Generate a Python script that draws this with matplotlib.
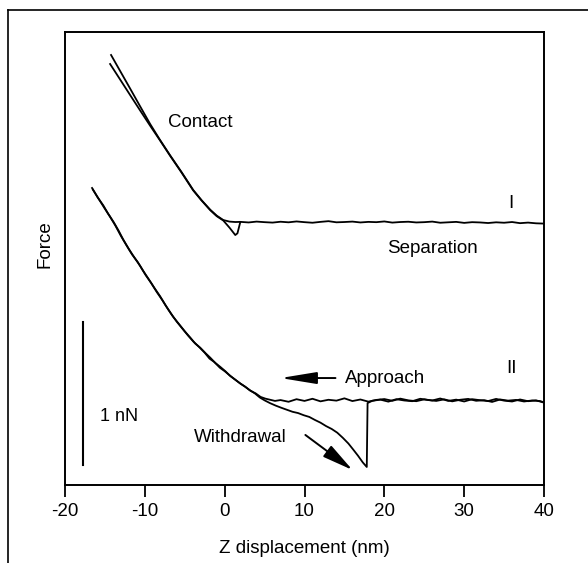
import matplotlib
matplotlib.use("Agg")
import matplotlib.pyplot as plt
from matplotlib.lines import Line2D

plt.rcParams['font.family'] = ['Liberation Sans', 'DejaVu Sans']

# curve I (top): approach and withdrawal, force in nN, Z in nm
i_app_x = [-14.23, -13.0, -11.84, -10.6, -9.33, -8.1, -6.83, -5.4, -3.94, -2.9,
           -1.81, -1.0, -0.18, 0.6, 1.33, 1.96]
i_app_y = [3.007, 2.886, 2.772, 2.649, 2.524, 2.413, 2.305, 2.188, 2.063, 1.992,
           1.925, 1.884, 1.853, 1.842, 1.839, 1.840]
i_wd_x = [-14.35, -13.1, -11.9, -10.6, -9.33, -8.1, -6.83, -5.4, -3.94, -2.9,
          -1.81, -1.0, -0.18, 0.6, 1.33, 1.6, 1.96]
i_wd_y = [2.944, 2.836, 2.732, 2.620, 2.512, 2.410, 2.302, 2.185, 2.060, 1.990,
          1.922, 1.880, 1.850, 1.800, 1.748, 1.760, 1.839]
i_flat_x = [2, 3, 4, 5, 6, 7, 8, 9, 10, 11, 12, 13, 14, 15, 16, 17, 18, 19, 20,
            21, 22, 23, 24, 25, 26, 27, 28, 29, 30, 31, 32, 33, 34, 35, 36, 37,
            38, 39, 40]
i_flat_y = [1.840, 1.836, 1.842, 1.838, 1.835, 1.841, 1.837, 1.843, 1.838, 1.834,
            1.840, 1.845, 1.837, 1.839, 1.842, 1.836, 1.840, 1.838, 1.843, 1.835,
            1.839, 1.841, 1.836, 1.838, 1.842, 1.834, 1.837, 1.840, 1.833, 1.838,
            1.836, 1.832, 1.837, 1.834, 1.839, 1.831, 1.835, 1.830, 1.828]

# curve II (bottom)
ii_app_x = [-16.61, -15.9, -15.2, -14.6, -13.9, -13.3, -12.7, -12.0, -11.3, -10.6,
            -9.9, -9.2, -8.5, -7.8, -7.1, -6.45, -5.7, -5.0, -4.3, -3.7, -3.06,
            -2.4, -1.8, -1.2, -0.55, 0.1, 0.7, 1.33, 2.0, 2.6, 3.2, 3.9, 4.5, 5.1,
            5.7, 6.3,
            7, 8, 9, 10, 11, 12, 13, 14, 15, 16, 17, 18, 19, 20, 21, 22, 23, 24,
            25, 26, 27, 28, 29, 30, 31, 32, 33, 34, 35, 36, 37, 38, 39, 40]
ii_app_y = [2.077, 2.010, 1.955, 1.897, 1.838, 1.780, 1.716, 1.650, 1.590, 1.533,
            1.468, 1.412, 1.349, 1.292, 1.230, 1.176, 1.124, 1.075, 1.030, 0.990,
            0.960, 0.922, 0.890, 0.855, 0.826, 0.795, 0.762, 0.736, 0.708, 0.686,
            0.660, 0.640, 0.616, 0.604, 0.596, 0.588,
            0.594, 0.582, 0.600, 0.588, 0.603, 0.585, 0.596, 0.590, 0.606, 0.587,
            0.598, 0.583, 0.595, 0.601, 0.589, 0.604, 0.592, 0.586, 0.599, 0.591,
            0.605, 0.588, 0.597, 0.584, 0.600, 0.593, 0.587, 0.602, 0.590, 0.584,
            0.598, 0.586, 0.592, 0.576]
ii_wd_x = [-16.5, -15.8, -15.1, -14.4, -13.7, -13.0, -12.3, -11.6, -10.9, -10.2,
           -9.5, -8.8, -8.1, -7.4, -6.7, -6.0, -5.3, -4.6, -3.9, -3.2, -2.5, -1.9,
           -1.3, -0.6, 0.0, 0.6, 1.2, 1.9, 2.5, 3.1, 3.8, 4.4, 5.0, 5.7, 6.4, 7.1,
           7.8, 8.5, 9.2, 9.9, 10.6, 11.3, 12.0, 12.7, 13.4, 14.1, 14.8, 15.5,
           16.1, 16.7, 17.3, 17.8, 17.9,
           18.5, 19.5, 20.5, 21.5, 22.5, 23.5, 24.5, 25.5, 26.5, 27.5, 28.5, 29.5,
           30.5, 31.5, 32.5, 33.5, 34.5, 35.5, 36.5, 37.5, 38.5, 39.5, 40.0]
ii_wd_y = [2.065, 2.003, 1.940, 1.880, 1.815, 1.742, 1.676, 1.612, 1.560, 1.497,
           1.438, 1.378, 1.321, 1.256, 1.197, 1.142, 1.094, 1.046, 1.002, 0.965,
           0.925, 0.884, 0.860, 0.820, 0.796, 0.768, 0.742, 0.712, 0.690, 0.665,
           0.640, 0.612, 0.592, 0.572, 0.555, 0.540, 0.526, 0.512, 0.503, 0.488,
           0.476, 0.455, 0.436, 0.412, 0.392, 0.366, 0.330, 0.290, 0.248, 0.205,
           0.158, 0.126, 0.573,
           0.589, 0.597, 0.583, 0.600, 0.591, 0.586, 0.603, 0.594, 0.588, 0.599,
           0.585, 0.596, 0.602, 0.589, 0.593, 0.581, 0.598, 0.590, 0.595, 0.584,
           0.591, 0.587, 0.578]

xticks = [-20, -10, 0, 10, 20, 30, 40]

fig = plt.figure(figsize=(5.88, 5.63), dpi=100)
ax = fig.add_axes([65 / 588, 78 / 563, 479 / 588, 453 / 563])

lw = 1.3
ax.plot(i_app_x + i_flat_x, i_app_y + i_flat_y, color='k', lw=lw)
ax.plot(i_wd_x, i_wd_y, color='k', lw=lw)
ax.plot(ii_app_x, ii_app_y, color='k', lw=lw)
ax.plot(ii_wd_x, ii_wd_y, color='k', lw=lw)

# 1 nN scale bar
ax.plot([-17.74, -17.74], [0.14, 1.14], color='k', lw=1.5)
ax.text(-15.6, 0.476, '1 nN', fontsize=13, va='center', ha='left')

fs = 13.5
ax.text(-3.06, 2.538, 'Contact', fontsize=fs, ha='center', va='center')
ax.text(26.05, 1.657, 'Separation', fontsize=fs, ha='center', va='center')
ax.text(35.84, 1.972, 'I', fontsize=fs, ha='center', va='center')
ax.text(35.96, 0.818, 'II', fontsize=fs, ha='center', va='center')
ax.text(15.13, 0.748, 'Approach', fontsize=fs, ha='left', va='center')
ax.text(1.96, 0.329, 'Withdrawal', fontsize=fs, ha='center', va='center')

ax.annotate('', xy=(6.98, 0.748), xytext=(13.88, 0.748),
            arrowprops=dict(arrowstyle='-|>,head_length=2.2,head_width=0.36',
                            mutation_scale=10, color='k', lw=1.4,
                            shrinkA=0, shrinkB=0))
ax.annotate('', xy=(16.01, 0.105), xytext=(10.11, 0.350),
            arrowprops=dict(arrowstyle='-|>,head_length=1.9,head_width=0.42',
                            mutation_scale=10, color='k', lw=1.4,
                            shrinkA=0, shrinkB=0))

ax.set_xlim(-20, 40)
ax.set_ylim(0, 453 / 143)
ax.set_xticks(xticks)
ax.set_xticklabels([str(t) for t in xticks])
ax.set_yticks([])
ax.tick_params(axis='x', direction='out', length=8.6, width=1.3,
               labelsize=fs, pad=4)
for s in ax.spines.values():
    s.set_linewidth(1.4)

ax.set_xlabel('Z displacement (nm)', fontsize=fs, labelpad=15)
ax.set_ylabel('Force', fontsize=fs)
ax.yaxis.set_label_coords(-0.025, 0.532)

# outer frame of the scanned panel (left and top edges)
fig.add_artist(Line2D([8 / 588, 8 / 588], [0, 1 - 10 / 563],
                      transform=fig.transFigure, color='k', lw=1.2))
fig.add_artist(Line2D([8 / 588, 1], [1 - 10 / 563, 1 - 10 / 563],
                      transform=fig.transFigure, color='k', lw=1.2))

fig.savefig('out.png', dpi=100)
